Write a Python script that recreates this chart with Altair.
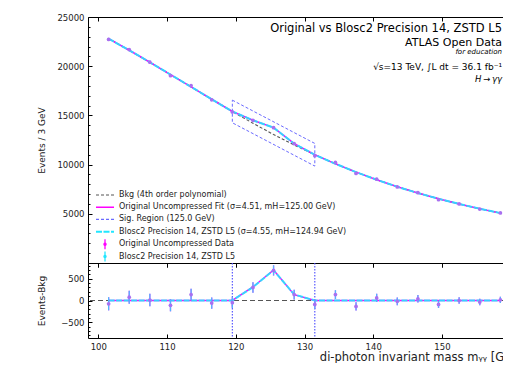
import altair as alt
import pandas as pd

# ---------------- data ----------------
mass = [101.5, 104.5, 107.5, 110.5, 113.5, 116.5, 119.5, 122.5, 125.5, 128.5,
        131.5, 134.5, 137.5, 140.5, 143.5, 146.5, 149.5, 152.5, 155.5, 158.5]
bkg = [22800, 21620, 20400, 19150, 17900, 16640, 15400, 14200, 13060, 11990,
       11000, 10080, 9240, 8460, 7750, 7110, 6530, 6000, 5520, 5070]
data_orig = [22725, 21695, 20410, 19040, 18035, 16580, 15350, 14500, 13750, 12125,
             10910, 10215, 9105, 8520, 7730, 7150, 6440, 6000, 5485, 5085]
data_blosc = [22725, 21695, 20410, 19040, 18035, 16580, 15350, 14500, 13750, 12125,
              10910, 10215, 9105, 8520, 7730, 7150, 6440, 6000, 5485, 5085]
errors = [151, 147, 143, 138, 134, 129, 124, 120, 117, 110,
          105, 101, 95, 92, 88, 85, 80, 77, 74, 71]
sig_orig = [0, 0, 0, 0, 0, 0, 0, 310, 700, 135, 0, 0, 0, 0, 0, 0, 0, 0, 0, 0]
sig_blosc = [0, 0, 0, 0, 0, 0, 0, 305, 695, 138, 0, 0, 0, 0, 0, 0, 0, 0, 0, 0]
region = [119.5, 131.5]
region_halfwidth = 1150

x_domain = [98.5, 161.5]
y_domain = [0, 25000]
r_domain = [-860, 860]
x_ticks = [100, 110, 120, 130, 140, 150, 160]
y_ticks = [5000, 10000, 15000, 20000, 25000]
y_minor = list(range(1000, 25000, 1000))
r_ticks = [-500, 0, 500]
r_minor = list(range(-800, 801, 100))

title_lines = ["Original vs Blosc2 Precision 14, ZSTD L5", "ATLAS Open Data", "for education",
               "\u221as=13 TeV, \u222bL dt = 36.1 fb\u207b\u00b9", "H\u2009\u2192\u2009\u03b3\u03b3"]
legend_labels = ["Bkg (4th order polynomial)",
                 "Original Uncompressed Fit (\u03c3=4.51, mH=125.00 GeV)",
                 "Sig. Region (125.0 GeV)",
                 "Blosc2 Precision 14, ZSTD L5 (\u03c3=4.55, mH=124.94 GeV)",
                 "Original Uncompressed Data",
                 "Blosc2 Precision 14, ZSTD L5"]

# ---------------- tables ----------------
df = pd.DataFrame({"m": mass, "bkg": bkg, "orig": data_orig, "blosc": data_blosc,
                   "err": errors, "sig_o": sig_orig, "sig_b": sig_blosc})
df["fit_o"] = df.bkg + df.sig_o
df["fit_b"] = df.bkg + df.sig_b
df["lo_o"] = df.orig - df.err
df["hi_o"] = df.orig + df.err
df["lo_b"] = df.blosc - df.err
df["hi_b"] = df.blosc + df.err
df["res_o"] = df.orig - df.bkg
df["res_b"] = df.blosc - df.bkg
df["rlo_o"] = df.res_o - df.err
df["rhi_o"] = df.res_o + df.err
df["rlo_b"] = df.res_b - df.err
df["rhi_b"] = df.res_b + df.err

b_at = dict(zip(mass, bkg))
box = pd.DataFrame({
    "m": [region[0], region[1], region[1], region[0], region[0]],
    "y": [b_at[region[0]] + region_halfwidth, b_at[region[1]] + region_halfwidth,
          b_at[region[1]] - region_halfwidth, b_at[region[0]] - region_halfwidth,
          b_at[region[0]] + region_halfwidth],
    "o": [0, 1, 2, 3, 4]})
reg_df = pd.DataFrame({"m": region})

# ---------------- styling / layout ----------------
FONT = "DejaVu Sans"
MAG = "#ff00ff"
CYAN = "#22e6ff"
BLUE = "#6a6aff"
VBLUE = "#4b4bff"
GREY = "#555555"
PT = "#a870f0"
INK = "#222222"

PAD_L, PAD_T, PAD_B = 80, 9, 25
SVG_W = 495
XR = 433            # full pixel length of the x axis (runs past the visible page)
H1, H2 = 246, 75    # heights of the main and residual panels
VIS_W = SVG_W - PAD_L

xs = alt.Scale(domain=x_domain, range=[0, XR], nice=False, zero=False)
ys = alt.Scale(domain=y_domain, range=[H1, 0], nice=False, zero=False)
rs = alt.Scale(domain=r_domain, range=[H1 + H2, H1], nice=False, zero=False)


def tick_axis(orient, values, size=4, offset=None, domain=False):
    return alt.Axis(orient=orient, values=values, labels=False, ticks=True, tickSize=size,
                    offset=-size if offset is None else offset, domain=domain, grid=False,
                    title=None, tickColor="black", domainColor="black")


base = alt.Chart(df)
NOX = alt.X("m:Q", scale=xs, axis=None)

# ---------------- main panel ----------------
bkg_line = base.mark_line(color=GREY, strokeDash=[3, 2], strokeWidth=1.1).encode(
    x=alt.X("m:Q", scale=xs, axis=alt.Axis(orient="top", values=x_ticks, labels=False, ticks=False,
                                           domain=True, domainColor="black", grid=False, title=None)),
    y=alt.Y("bkg:Q", scale=ys, axis=alt.Axis(orient="left", values=y_ticks, title="Events / 3 GeV",
                                             format="d", ticks=False, tickSize=0, domain=True,
                                             domainColor="black", grid=False,
                                             labelPadding=4, titlePadding=10.5)))
fit_o = base.mark_line(color=MAG, strokeWidth=1.5).encode(
    x=alt.X("m:Q", scale=xs, axis=tick_axis("top", x_ticks)),
    y=alt.Y("fit_o:Q", scale=ys, axis=tick_axis("left", y_ticks)))
fit_b = base.mark_line(color=CYAN, strokeWidth=2, strokeDash=[6, 1.5], opacity=0.9).encode(
    x=alt.X("m:Q", scale=xs, axis=tick_axis("bottom", x_ticks, 4, offset=-H2, domain=True)),
    y=alt.Y("fit_b:Q", scale=ys, axis=tick_axis("left", y_minor, 2)))
box_line = alt.Chart(box).mark_line(color=BLUE, strokeDash=[3, 2], strokeWidth=1).encode(
    x=NOX, y=alt.Y("y:Q", scale=ys, axis=None), order="o:Q")
eb_o = base.mark_rule(color=MAG, strokeWidth=1.3).encode(
    x=NOX, y=alt.Y("lo_o:Q", scale=ys, axis=None), y2="hi_o:Q")
eb_b = base.mark_rule(color=CYAN, strokeWidth=1.3, opacity=0.8).encode(
    x=NOX, y=alt.Y("lo_b:Q", scale=ys, axis=None), y2="hi_b:Q")
pt_o = base.mark_circle(color=PT, size=14, opacity=1).encode(
    x=NOX, y=alt.Y("orig:Q", scale=ys, axis=None))

# annotation texts (right aligned, plot-pixel positions)
tx = 414
txt_specs = [(0, 12.3, 11.5, "normal"), (1, 25.5, 11, "normal"), (2, 35, 7, "italic"),
             (3, 49.7, 9, "normal"), (4, 62, 8.5, "italic")]
texts = []
for i, yy, fs, style in txt_specs:
    texts.append(alt.Chart(pd.DataFrame({"t": [title_lines[i]]})).mark_text(
        align="right", baseline="middle", fontSize=fs, font=FONT, fontStyle=style, color="black").encode(
        text="t:N", x=alt.value(tx), y=alt.value(yy)))

# manual legend
leg_y = [178, 190.3, 202.4, 214.7, 227.2, 239.6]
leg = []
for i, lab in enumerate(legend_labels):
    leg.append(alt.Chart(pd.DataFrame({"t": [lab]})).mark_text(
        align="left", baseline="middle", fontSize=8, font=FONT, color=INK).encode(
        text="t:N", x=alt.value(31), y=alt.value(leg_y[i])))
leg_line_styles = [(GREY, [3, 2], 1.1), (MAG, [1, 0], 1.5), (BLUE, [3, 2], 1.1), (CYAN, [6, 1.5], 2)]
for i, (c, d, w) in enumerate(leg_line_styles):
    leg.append(alt.Chart(pd.DataFrame({"a": [0]})).mark_rule(color=c, strokeDash=d, strokeWidth=w).encode(
        x=alt.value(8), x2=alt.value(26), y=alt.value(leg_y[i])))
for i, c in [(4, MAG), (5, CYAN)]:
    leg.append(alt.Chart(pd.DataFrame({"a": [0]})).mark_rule(color=c, strokeWidth=1.3).encode(
        x=alt.value(17), y=alt.value(leg_y[i] - 5), y2=alt.value(leg_y[i] + 5)))
    leg.append(alt.Chart(pd.DataFrame({"a": [0]})).mark_circle(color=c, size=12, opacity=1).encode(
        x=alt.value(17), y=alt.value(leg_y[i])))

# ---------------- residual panel ----------------
zero = alt.Chart(pd.DataFrame({"a": [0]})).mark_rule(color=GREY, strokeDash=[5, 3], strokeWidth=1.1).encode(
    y=alt.YDatum(0, scale=rs, axis=alt.Axis(orient="left", values=r_ticks, title="Events-Bkg", format="d",
                                            ticks=False, tickSize=0, domain=True, domainColor="black",
                                            grid=False, labelPadding=4, titlePadding=14)))
vlines = alt.Chart(reg_df).mark_rule(color=VBLUE, strokeDash=[1.5, 1.5], strokeWidth=1.1).encode(
    x=alt.X("m:Q", scale=xs, axis=alt.Axis(orient="bottom", values=x_ticks, ticks=False, tickSize=0,
                                           domain=True, domainColor="black", grid=False, labelPadding=4,
                                           title="di-photon invariant mass m\u1d67\u1d67 [GeV]",
                                           titleX=XR + 2, titleAlign="right",
                                           titleFontSize=11.5, titlePadding=1)),
    y=alt.YDatum(r_domain[1], scale=rs, axis=None), y2=alt.Y2Datum(r_domain[0]))
rfit_o = base.mark_line(color=MAG, strokeWidth=1.5).encode(
    x=alt.X("m:Q", scale=xs, axis=tick_axis("bottom", x_ticks)),
    y=alt.Y("sig_o:Q", scale=rs, axis=tick_axis("left", r_ticks)))
rfit_b = base.mark_line(color=CYAN, strokeWidth=2, strokeDash=[6, 1.5], opacity=0.9).encode(
    x=alt.X("m:Q", scale=xs, axis=tick_axis("top", x_ticks, 4, offset=-(H1 + 4))),
    y=alt.Y("sig_b:Q", scale=rs, axis=tick_axis("left", r_minor, 2)))
reb_o = base.mark_rule(color=MAG, strokeWidth=1.3).encode(
    x=NOX, y=alt.Y("rlo_o:Q", scale=rs, axis=None), y2="rhi_o:Q")
reb_b = base.mark_rule(color=CYAN, strokeWidth=1.3, opacity=0.8).encode(
    x=NOX, y=alt.Y("rlo_b:Q", scale=rs, axis=None), y2="rhi_b:Q")
rpt_o = base.mark_circle(color=PT, size=14, opacity=1).encode(
    x=NOX, y=alt.Y("res_o:Q", scale=rs, axis=None))

chart = alt.layer(
    bkg_line, fit_o, fit_b, box_line, eb_o, eb_b, pt_o,
    zero, vlines, rfit_o, rfit_b, reb_o, reb_b, rpt_o,
    *texts, *leg
).resolve_scale(y="independent").resolve_axis(x="independent", y="independent").properties(
    width=VIS_W, height=H1 + H2,
    autosize=alt.AutoSizeParams(type="none"),
    padding={"left": PAD_L, "top": PAD_T, "right": 0, "bottom": PAD_B}
).configure(font=FONT).configure_view(stroke="transparent").configure_axis(
    labelFont=FONT, titleFont=FONT, labelFontSize=8.5, titleFontSize=9, titleFontWeight="normal",
    labelColor=INK, titleColor=INK, tickColor="black")

chart.save("out.html", embed_options={"renderer": "svg", "actions": False})
